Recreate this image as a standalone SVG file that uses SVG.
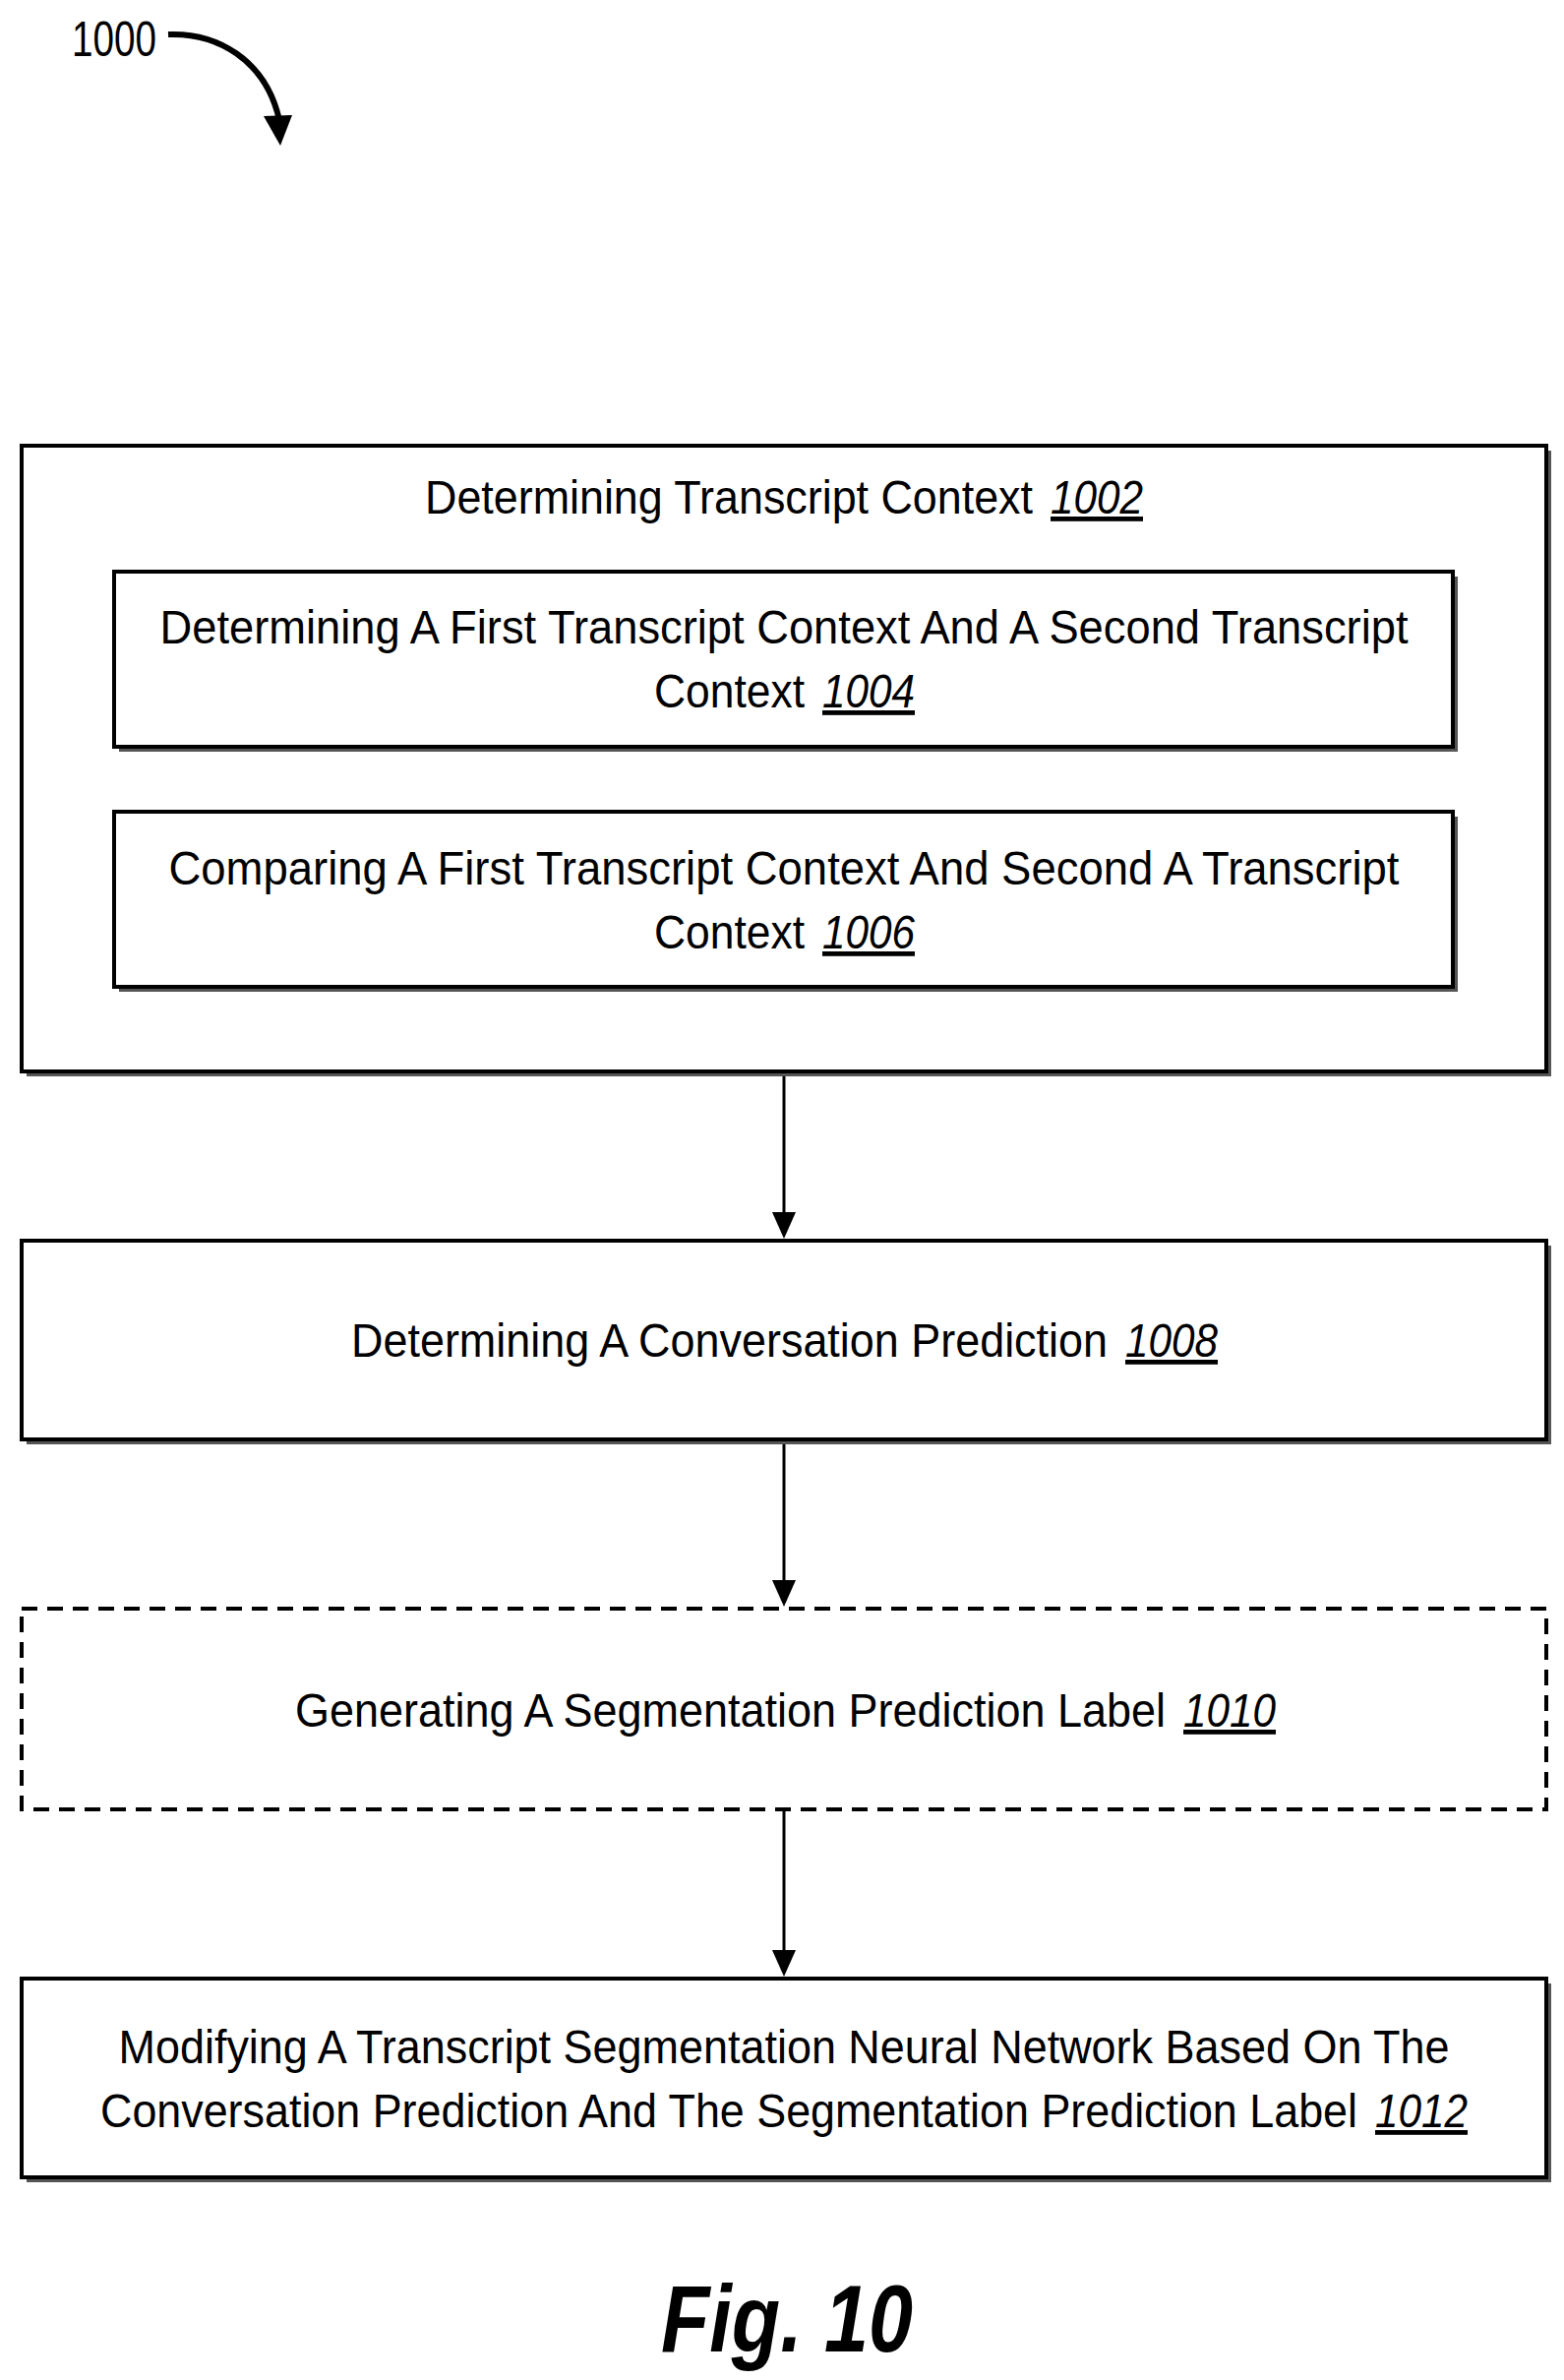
<svg xmlns="http://www.w3.org/2000/svg" width="1590" height="2419" viewBox="0 0 1590 2419">
<style>
.box{fill:#fff;stroke:#000;stroke-width:4}
.sh{fill:#555}
.t{font-family:"Liberation Sans Narrow","Liberation Sans",Arial,sans-serif;font-size:48px;fill:#000}
.m{text-anchor:middle}
.n{font-style:italic;text-decoration:underline}
.c{stroke:#000;stroke-width:3;fill:none}
</style>
<rect width="1590" height="2419" fill="#fff"/>
<g id="label1000">
<text x="73" y="57" style="font-family:'Liberation Sans',Arial,sans-serif;font-size:50px" textLength="86" lengthAdjust="spacingAndGlyphs">1000</text>
<path d="M171,35 C220,33 270,60 284,122" stroke="#000" stroke-width="6" fill="none"/>
<path d="M268,118 L297,117 L285,148 z" fill="#000"/>
</g>
<g id="connectors">
<line class="c" x1="797" y1="1091" x2="797" y2="1232"/>
<path d="M785,1232 L809,1232 L797,1259 z"/>
<line class="c" x1="797" y1="1465" x2="797" y2="1606"/>
<path d="M785,1606 L809,1606 L797,1633 z"/>
<line class="c" x1="797" y1="1841" x2="797" y2="1982"/>
<path d="M785,1982 L809,1982 L797,2009 z"/>
</g>
<g id="n1002">
<rect class="sh" x="27" y="458" width="1550" height="636"/>
<rect class="box" x="22" y="453" width="1550" height="636"/>
<text class="t" x="432" y="522" textLength="618" lengthAdjust="spacingAndGlyphs">Determining Transcript Context</text>
<text class="t n" x="1068" y="522" textLength="94" lengthAdjust="spacingAndGlyphs">1002</text>
</g>
<g id="n1004">
<rect class="sh" x="121" y="586" width="1361" height="178"/>
<rect class="box" x="116" y="581" width="1361" height="178"/>
<text class="t m" x="797" y="654" textLength="1269" lengthAdjust="spacingAndGlyphs">Determining A First Transcript Context And A Second Transcript</text>
<text class="t" x="665" y="719" textLength="153" lengthAdjust="spacingAndGlyphs">Context</text>
<text class="t n" x="836" y="719" textLength="94" lengthAdjust="spacingAndGlyphs">1004</text>
</g>
<g id="n1006">
<rect class="sh" x="121" y="830" width="1361" height="178"/>
<rect class="box" x="116" y="825" width="1361" height="178"/>
<text class="t m" x="797" y="899" textLength="1251" lengthAdjust="spacingAndGlyphs">Comparing A First Transcript Context And Second A Transcript</text>
<text class="t" x="665" y="964" textLength="153" lengthAdjust="spacingAndGlyphs">Context</text>
<text class="t n" x="836" y="964" textLength="94" lengthAdjust="spacingAndGlyphs">1006</text>
</g>
<g id="n1008">
<rect class="sh" x="27" y="1266" width="1550" height="202"/>
<rect class="box" x="22" y="1261" width="1550" height="202"/>
<text class="t" x="357" y="1379" textLength="769" lengthAdjust="spacingAndGlyphs">Determining A Conversation Prediction</text>
<text class="t n" x="1144" y="1379" textLength="94" lengthAdjust="spacingAndGlyphs">1008</text>
</g>
<g id="n1010">
<rect class="box" x="22" y="1635" width="1550" height="204" stroke-dasharray="16,10"/>
<text class="t" x="300" y="1755" textLength="885" lengthAdjust="spacingAndGlyphs">Generating A Segmentation Prediction Label</text>
<text class="t n" x="1203" y="1755" textLength="94" lengthAdjust="spacingAndGlyphs">1010</text>
</g>
<g id="n1012">
<rect class="sh" x="27" y="2016" width="1550" height="202"/>
<rect class="box" x="22" y="2011" width="1550" height="202"/>
<text class="t m" x="797" y="2097" textLength="1353" lengthAdjust="spacingAndGlyphs">Modifying A Transcript Segmentation Neural Network Based On The</text>
<text class="t" x="102" y="2162" textLength="1278" lengthAdjust="spacingAndGlyphs">Conversation Prediction And The Segmentation Prediction Label</text>
<text class="t n" x="1398" y="2162" textLength="94" lengthAdjust="spacingAndGlyphs">1012</text>
</g>
<g id="caption">
<text x="800" y="2390" style="font-family:'Liberation Sans',Arial,sans-serif;font-size:96px;font-weight:bold;font-style:italic;text-anchor:middle" textLength="256" lengthAdjust="spacingAndGlyphs">Fig. 10</text>
</g>
</svg>
